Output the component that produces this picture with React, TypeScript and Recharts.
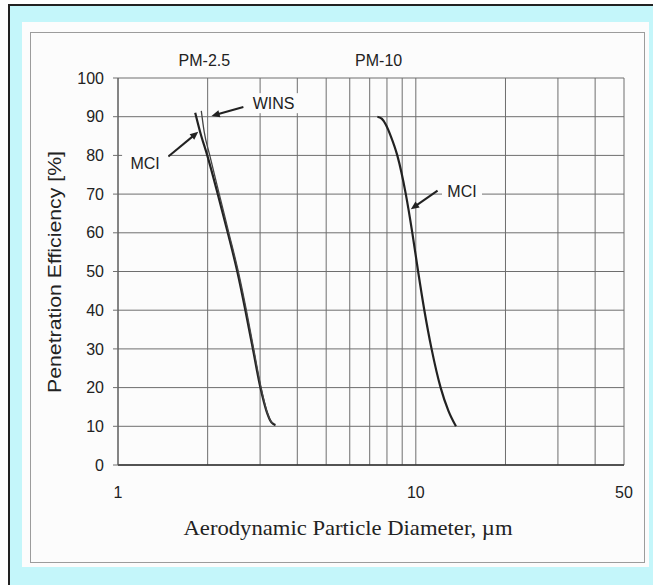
import { LineChart, Line, XAxis, YAxis, CartesianGrid, ReferenceDot, ReferenceLine } from 'recharts';

// particle diameter (µm) vs penetration efficiency (%)
const xTicks = [1, 2, 3, 4, 5, 6, 7, 8, 9, 10, 20, 30, 40, 50];
const xTickLabels = [1, 10, 50];
const yTicks = [0, 10, 20, 30, 40, 50, 60, 70, 80, 90, 100];

const mciPm25 = [
  { d: 1.817, e: 91 }, { d: 1.888, e: 86 }, { d: 1.994, e: 80 }, { d: 2.163, e: 70 },
  { d: 2.337, e: 60 }, { d: 2.515, e: 50 }, { d: 2.677, e: 40 }, { d: 2.837, e: 30 },
  { d: 3.007, e: 20 }, { d: 3.15, e: 14 }, { d: 3.275, e: 11 }, { d: 3.379, e: 10.3 },
];

const winsPm25 = [
  { d: 1.904, e: 91.5 }, { d: 1.948, e: 86 }, { d: 2.033, e: 80 }, { d: 2.188, e: 70 },
  { d: 2.356, e: 60 }, { d: 2.535, e: 50 }, { d: 2.698, e: 40 }, { d: 2.855, e: 30 },
  { d: 3.023, e: 20 }, { d: 3.158, e: 14 }, { d: 3.25, e: 11.5 }, { d: 3.314, e: 10.8 },
];

const mciPm10 = [
  { d: 7.43, e: 90 }, { d: 7.682, e: 89.5 }, { d: 7.925, e: 88 }, { d: 8.238, e: 85 },
  { d: 8.665, e: 80 }, { d: 9.254, e: 70 }, { d: 9.732, e: 60 }, { d: 10.179, e: 50 },
  { d: 10.68, e: 40 }, { d: 11.294, e: 30 }, { d: 12.113, e: 20 }, { d: 12.867, e: 14 },
  { d: 13.638, e: 10 },
];

// annotation anchors, in data units
const notes = [
  { text: 'PM-2.5', d: 1.95, e: 104.4, w: 0 },
  { text: 'PM-10', d: 7.5, e: 104.4, w: 0 },
  { text: 'WINS', d: 3.33, e: 93.5, w: 50 },
  { text: 'MCI', d: 1.233, e: 77.8, w: 46 },
  { text: 'MCI', d: 14.29, e: 70.8, w: 40 },
];

const arrows = [
  { from: { x: 2.636, y: 92.5 }, to: { x: 2.06, y: 90.2 } },
  { from: { x: 1.476, y: 79.7 }, to: { x: 1.86, y: 86.1 } },
  { from: { x: 11.83, y: 70.9 }, to: { x: 9.62, y: 66.1 } },
];

const INK = '#222';
const GRID = '#6e6e6e';
const SANS = '"Liberation Sans", Arial, sans-serif';

function noteShape(text: string, w: number) {
  return (p: any) => (
    <g>
      {w > 0 && <rect x={p.cx - w / 2} y={p.cy - 10} width={w} height={20} fill="#fcfcfc" />}
      <text x={p.cx} y={p.cy} textAnchor="middle" dominantBaseline="central" fontSize={16} fill={INK} fontFamily={SANS}>
        {text}
      </text>
    </g>
  );
}

function arrowShape(p: any) {
  const { x1, y1, x2, y2 } = p;
  const ang = Math.atan2(y2 - y1, x2 - x1);
  const len = 9;
  const spread = 0.42;
  const ax = x2 - len * Math.cos(ang - spread);
  const ay = y2 - len * Math.sin(ang - spread);
  const bx = x2 - len * Math.cos(ang + spread);
  const by = y2 - len * Math.sin(ang + spread);
  const mx = x2 - len * 0.8 * Math.cos(ang);
  const my = y2 - len * 0.8 * Math.sin(ang);
  return (
    <g>
      <line x1={x1} y1={y1} x2={mx} y2={my} stroke={INK} strokeWidth={2} />
      <polygon points={`${x2},${y2} ${ax},${ay} ${bx},${by}`} fill={INK} />
    </g>
  );
}

export default function App() {
  return (
    <div style={{ position: 'absolute', left: 0, top: 0, width: 653, height: 585, background: '#fff', overflow: 'hidden' }}>
      <div style={{ position: 'absolute', left: 8, top: 4, right: 0, bottom: 0, background: '#c4f6fa', borderLeft: '2px solid #222', borderTop: '2px solid #222' }} />
      <div style={{ position: 'absolute', left: 22, top: 22, width: 627, height: 545, background: '#fcfcfc' }} />
      <div style={{ position: 'absolute', left: 30, top: 32, width: 615, height: 531, border: '1.5px solid #9c9c9c', boxSizing: 'border-box' }} />

      <div style={{ position: 'absolute', left: 0, top: 0 }}>
        <LineChart width={653} height={585} margin={{ top: 78, right: 29, bottom: 80, left: 0 }}>
          <CartesianGrid stroke={GRID} strokeWidth={1} />
          <XAxis
            dataKey="d"
            type="number"
            scale="log"
            domain={[1, 50]}
            ticks={xTicks}
            allowDataOverflow
            height={40}
            tickLine={false}
            tickMargin={16}
            axisLine={{ stroke: '#333', strokeWidth: 1.5 }}
            tickFormatter={(v: number) => (xTickLabels.includes(v) ? String(v) : '')}
            tick={{ fill: INK, fontSize: 16, fontFamily: SANS }}
          />
          <YAxis
            type="number"
            domain={[0, 100]}
            ticks={yTicks}
            width={118}
            tickSize={5}
            tickMargin={9}
            tickLine={{ stroke: GRID }}
            axisLine={{ stroke: '#555' }}
            tick={{ fill: INK, fontSize: 16, fontFamily: SANS }}
          />
          <Line data={mciPm25} dataKey="e" type="monotone" stroke={INK} strokeWidth={2.2} dot={false} isAnimationActive={false} />
          <Line data={winsPm25} dataKey="e" type="monotone" stroke="#444" strokeWidth={1.3} dot={false} isAnimationActive={false} />
          <Line data={mciPm10} dataKey="e" type="monotone" stroke={INK} strokeWidth={2.2} dot={false} isAnimationActive={false} />
          {notes.map((n, i) => (
            <ReferenceDot key={'n' + i} x={n.d} y={n.e} r={0} ifOverflow="visible" shape={noteShape(n.text, n.w)} />
          ))}
          {arrows.map((a, i) => (
            <ReferenceLine key={'a' + i} segment={[a.from, a.to]} ifOverflow="visible" shape={arrowShape} />
          ))}
        </LineChart>
      </div>

      <svg width={653} height={585} style={{ position: 'absolute', left: 0, top: 0, pointerEvents: 'none' }}>
        <text
          x={348}
          y={527}
          textAnchor="middle"
          dominantBaseline="central"
          fontSize={22}
          fill={INK}
          fontFamily='"Liberation Serif", "Times New Roman", serif'
          textLength={329}
          lengthAdjust="spacingAndGlyphs"
        >
          Aerodynamic Particle Diameter, µm
        </text>
        <text
          transform="translate(54, 272) rotate(-90)"
          textAnchor="middle"
          dominantBaseline="central"
          fontSize={19}
          fill={INK}
          fontFamily={SANS}
          textLength={242}
          lengthAdjust="spacingAndGlyphs"
        >
          Penetration Efficiency [%]
        </text>
      </svg>
    </div>
  );
}
